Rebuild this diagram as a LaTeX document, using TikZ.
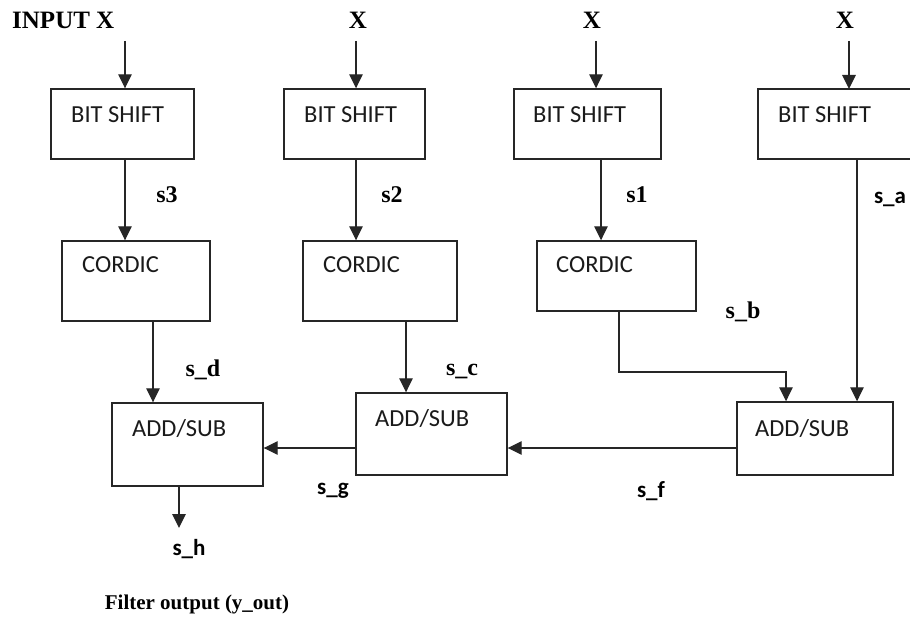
\documentclass[tikz,border=0pt]{standalone}
\usepackage{fontspec}
\setmainfont{Liberation Serif}
\newfontfamily\carl{Carlito}
\usetikzlibrary{arrows.meta}
\definecolor{linec}{HTML}{262626}
\definecolor{txtc}{HTML}{1A1A1A}
\begin{document}
\begin{tikzpicture}[x=1pt,y=-1pt,
  blk/.style={draw=linec, line width=1.4pt, inner sep=0pt, fill=white},
  boxtext/.style={anchor=base west, inner sep=0pt, text=txtc, font=\carl\fontsize{24.5}{29}\selectfont},
  toplbl/.style={anchor=base, inner sep=0pt, font=\bfseries\fontsize{25}{30}\selectfont},
  serlbl/.style={inner sep=0pt, font=\bfseries\fontsize{24}{28}\selectfont},
  sanlbl/.style={inner sep=0pt, font=\carl\bfseries\fontsize{23}{27}\selectfont},
  arr/.style={draw=linec, line width=1.3pt, -{Triangle[width=13.5pt,length=14pt]}}]
\useasboundingbox (0,0) rectangle (910,617);

% boxes
\node[blk, minimum width=143pt, minimum height=70pt] (bs1) at (122.5,124) {};
\node[blk, minimum width=141pt, minimum height=70pt] (bs2) at (354.5,124) {};
\node[blk, minimum width=147pt, minimum height=70pt] (bs3) at (587.5,124) {};
\draw[linec, line width=1.4pt] (910,89) -| (758,159) -- (910,159);
\node[blk, minimum width=148pt, minimum height=80pt] (c1) at (136,281) {};
\node[blk, minimum width=154pt, minimum height=80pt] (c2) at (380,281) {};
\node[blk, minimum width=159pt, minimum height=70pt] (c3) at (616.5,276) {};
\node[blk, minimum width=151pt, minimum height=83pt] (a1) at (187.5,444.5) {};
\node[blk, minimum width=151pt, minimum height=82pt] (a2) at (431.5,434) {};
\node[blk, minimum width=156pt, minimum height=73pt] (a3) at (815,438.5) {};

% box texts
\node[boxtext] (t1) at (71,123) {BIT SHIFT};
\node[boxtext] (t2) at (304,123) {BIT SHIFT};
\node[boxtext] (t3) at (533,123) {BIT SHIFT};
\node[boxtext] (t4) at (778,123) {BIT SHIFT};
\node[boxtext] (t5) at (82,273) {CORDIC};
\node[boxtext] (t6) at (323,273) {CORDIC};
\node[boxtext] (t7) at (556,273) {CORDIC};
\node[boxtext] (t8) at (132,436) {ADD/SUB};
\node[boxtext] (t9) at (375,426) {ADD/SUB};
\node[boxtext] (t10) at (755,436) {ADD/SUB};

% top inputs
\node[toplbl, anchor=base west] (x1) at (12,29) {INPUT X};
\node[toplbl] (x2) at (358,29) {X};
\node[toplbl] (x3) at (592,29) {X};
\node[toplbl] (x4) at (845,29) {X};
\coordinate (in1) at (125,41);
\coordinate (in2) at (356,41);
\coordinate (in3) at (596,41);
\coordinate (in4) at (849,41);
\coordinate (bs4top) at (849,89);
\coordinate (bs4bot) at (857,159);
\coordinate (cb) at (786,372);
\coordinate (out) at (179,528);

\draw[arr] (in1) -- (in1 |- bs1.north);
\draw[arr] (in2) -- (in2 |- bs2.north);
\draw[arr] (in3) -- (in3 |- bs3.north);
\draw[arr] (in4) -- (bs4top);

\draw[arr] ([xshift=2.5pt]bs1.south) -- ([xshift=2.5pt]bs1.south |- c1.north);
\draw[arr] ([xshift=1.5pt]bs2.south) -- ([xshift=1.5pt]bs2.south |- c2.north);
\draw[arr] ([xshift=13.5pt]bs3.south) -- ([xshift=13.5pt]bs3.south |- c3.north);
\draw[arr] ([xshift=17pt]c1.south) -- ([xshift=17pt]c1.south |- a1.north);
\draw[arr] ([xshift=26pt]c2.south) -- ([xshift=26pt]c2.south |- a2.north);
\draw[arr] ([xshift=2.5pt]c3.south) |- (cb) -- (cb |- a3.north);
\draw[arr] (bs4bot) -- (bs4bot |- a3.north);
\draw[arr] ([yshift=-9.5pt]a3.west) -- ([yshift=-9.5pt]a3.west -| a2.east);
\draw[arr] ([yshift=-14pt]a2.west) -- ([yshift=-14pt]a2.west -| a1.east);
\draw[arr] (out |- a1.south) -- (out);

% signal labels
\node[serlbl] (s3) at (167,195) {s3};
\node[serlbl] (s2) at (392,195) {s2};
\node[serlbl] (s1) at (637,195) {s1};
\node[sanlbl] (sa) at (890,199) {s\_a};
\node[serlbl] (sb) at (743,312) {s\_b};
\node[serlbl] (sc) at (462,372) {s\_c};
\node[serlbl] (sd) at (203,370) {s\_d};
\node[sanlbl] (sg) at (333,491) {s\_g};
\node[sanlbl] (sf) at (651,491) {s\_f};
\node[sanlbl] (sh) at (189,549) {s\_h};
\node[inner sep=0pt, font=\bfseries\fontsize{21}{25}\selectfont] (fo) at (197,604) {Filter output (y\_out)};
\end{tikzpicture}
\end{document}
